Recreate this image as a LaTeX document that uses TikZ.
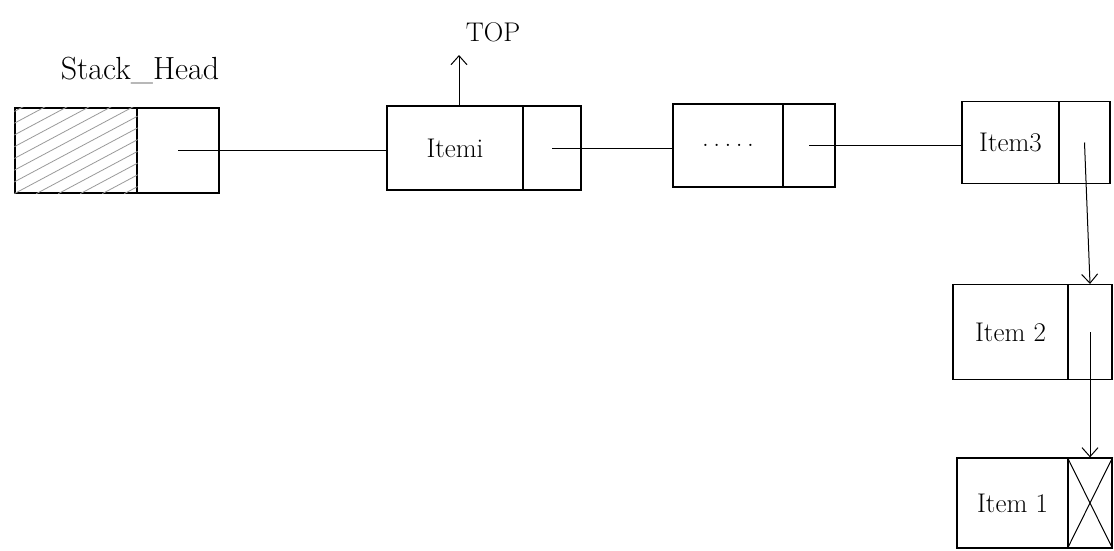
\documentclass[tikz,border=0pt]{standalone}
\usetikzlibrary{arrows.meta,calc}
\begin{document}
\begin{tikzpicture}[x=1pt,y=-1pt,
  cell/.style={draw, line width=1.2pt, rectangle, inner sep=0pt},
  lbl/.style={font=\fontsize{27}{30}\selectfont},
  link/.style={line width=1pt},
  arr/.style={line width=1pt, -{Straight Barb[length=9pt,width=16pt]}}]
\useasboundingbox[fill=white] (0,0) rectangle (1114,550);
% Stack_Head
\node[lbl, font=\fontsize{32}{36}\selectfont] (shlabel) at (140,70) {Stack\_Head};
\node[cell, minimum width=122pt, minimum height=85pt] (shdata) at (76,150.5) {};
\node[cell, minimum width=82pt, minimum height=85pt] (shptr) at (178,150.5) {};
\begin{scope}
  \clip (shdata.south west) rectangle (shdata.north east);
  \foreach \k in {-176,-154,...,130}
    \draw[gray!80, line width=0.8pt] ($(shdata.south west)+(\k,0)$) -- ++(300,-160);
\end{scope}
% Item i
\node[cell, minimum width=136pt, minimum height=84pt, lbl] (iidata) at (455,148) {Itemi};
\node[cell, minimum width=58pt, minimum height=84pt] (iiptr) at (552,148) {};
\node[lbl] (top) at (493,32) {TOP};
\coordinate (topend) at (459,55);
% dots node
\node[cell, minimum width=110pt, minimum height=83pt, lbl] (dotdata) at (728,145.5) {.\,.\,.\,.\,.};
\node[cell, minimum width=52pt, minimum height=83pt] (dotptr) at (809,145.5) {};
% Item3
\node[cell, minimum width=97pt, minimum height=82pt, lbl] (i3data) at (1010.5,142.5) {Item3};
\node[cell, minimum width=51pt, minimum height=82pt] (i3ptr) at (1084.5,142.5) {};
% Item2
\node[cell, minimum width=115pt, minimum height=95pt, lbl] (i2data) at (1010.5,332) {Item 2};
\node[cell, minimum width=44pt, minimum height=95pt] (i2ptr) at (1090,332) {};
% Item1
\node[cell, minimum width=111pt, minimum height=90pt, lbl] (i1data) at (1012.5,503) {Item 1};
\node[cell, minimum width=44pt, minimum height=90pt] (i1ptr) at (1090,503) {};
\draw[line width=1pt] (i1ptr.north west) -- (i1ptr.south east);
\draw[line width=1pt] (i1ptr.south west) -- (i1ptr.north east);
% connectors
\draw[link] (shptr.center) -- (shptr.center -| iidata.west);
\draw[link] (iiptr.center) -- (iiptr.center -| dotdata.west);
\draw[link] (dotptr.center) -- (dotptr.center -| i3data.west);
\draw[arr] (iidata.north -| topend) -- (topend);
\draw[arr] (i3ptr.center) -- (i2ptr.north);
\draw[arr] (i2ptr.center) -- (i1ptr.north);
\end{tikzpicture}
\end{document}
